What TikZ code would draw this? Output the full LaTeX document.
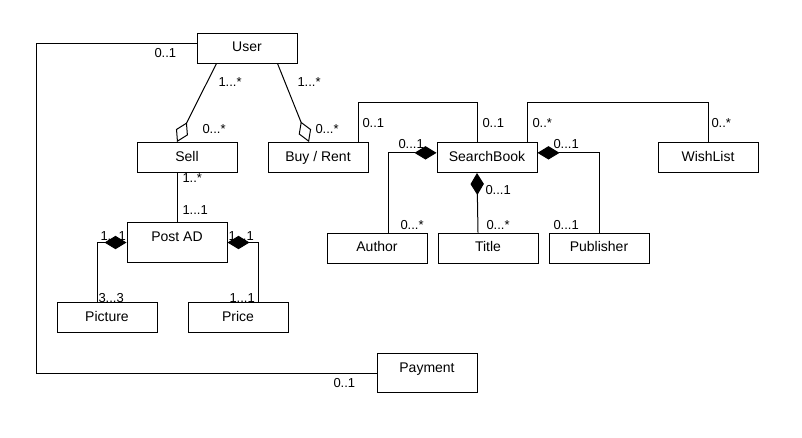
\documentclass[tikz,border=0pt]{standalone}
\usepackage{fontspec}
\setmainfont{Liberation Sans}
\usetikzlibrary{positioning}
\usetikzlibrary{arrows.meta}

\begin{document}
\begin{tikzpicture}[x=0.75pt, y=-0.75pt, line width=0.75pt]
  \tikzset{node distance = 7.5pt and 22.5pt}
  \tikzset{cls/.style={draw, minimum width=75pt, minimum height=22.5pt, inner sep=0pt,
      text height=7.8pt, text depth=2.5pt, font=\fontsize{10.5}{12}\selectfont}}
  \tikzset{tallcls/.style={cls, minimum height=29.6pt, text depth=8.9pt}}
  \tikzset{mult/.style={anchor=west, inner sep=0pt, font=\fontsize{9.75}{11}\selectfont}}
  \tikzset{agg/.style={-{Diamond[open, length=16.5pt, width=10pt]}}}
  \tikzset{comp/.style={-{Diamond[length=16.5pt, width=10pt]}}}

  \useasboundingbox (0,0) rectangle (802,437);

  \node[cls] (user) at (247,48) {User};
  \node[cls] (sell) at (187,157.5) {Sell};
  \node[cls, right=of sell] (buyrent) {Buy / Rent};
  \node[cls] (searchbook) at (487,157.5) {SearchBook};
  \node[cls, right=90pt of searchbook] (wishlist) {WishList};
  \node[cls] (author) at (377,248) {Author};
  \node[cls, right=7.5pt of author] (title) {Title};
  \node[cls, right=7.5pt of title] (publisher) {Publisher};
  \node[tallcls] (postad) at (177,242.5) {Post AD};
  \node[cls] (picture) at (107,317.5) {Picture};
  \node[cls, right=of picture] (price) {Price};
  \node[tallcls] (payment) at (427,373) {Payment};

  % user side
  \draw ([yshift=3.75pt]user.west) -- ++(-160,0) |- (payment.west);
  \draw[agg] ([xshift=15pt]user.south west) -- ([xshift=-7.5pt]sell.north);
  \draw[agg] ([xshift=-15pt]user.south east) -- ([xshift=-6.75pt]buyrent.north);
  \draw (postad.north |- sell.south) -- (postad.north);
  \draw[comp] ([xshift=-7.5pt]picture.north) |- (postad.west);
  \draw[comp] ([xshift=15pt]price.north) |- (postad.east);

  % search side
  \draw ([xshift=-7.5pt]buyrent.north east) -- ++(0,-40) -| ([xshift=-7.5pt]searchbook.north);
  \draw ([xshift=-7.5pt]searchbook.north east) -- ++(0,-40) -| (wishlist.north);
  \draw[comp] ([xshift=8.25pt]author.north) |- ([yshift=3.5pt]searchbook.west);
  \draw[comp] ([xshift=-7.5pt]title.north) -- ([xshift=-7.5pt]searchbook.south);
  \draw[comp] (publisher.north) |- ([yshift=3.5pt]searchbook.east);

  % multiplicities
  \node[mult] (m1) at (154,53) {0..1};
  \node[mult] (m2) at (218,82) {1...*};
  \node[mult] (m3) at (202,129) {0...*};
  \node[mult] (m4) at (297,82) {1...*};
  \node[mult] (m5) at (315,129) {0...*};
  \node[mult] (m6) at (362,123) {0..1};
  \node[mult] (m7) at (482,123) {0..1};
  \node[mult] (m8) at (532,123) {0..*};
  \node[mult] (m9) at (711,123) {0..*};
  \node[mult] (m10) at (398,144) {0...1};
  \node[mult] (m11) at (553,144) {0...1};
  \node[mult] (m12) at (485,190) {0...1};
  \node[mult] (m13) at (400,225) {0...*};
  \node[mult] (m14) at (486,225) {0...*};
  \node[mult] (m15) at (553,225) {0...1};
  \node[mult] (m16) at (182,178) {1..*};
  \node[mult] (m17) at (182,210) {1...1};
  \node[mult] (m18) at (100,236) {1...1};
  \node[mult] (m19) at (228,236) {1...1};
  \node[mult] (m20) at (98,298) {3...3};
  \node[mult] (m21) at (229,298) {1...1};
  \node[mult] (m22) at (333,383) {0..1};
\end{tikzpicture}
\end{document}
